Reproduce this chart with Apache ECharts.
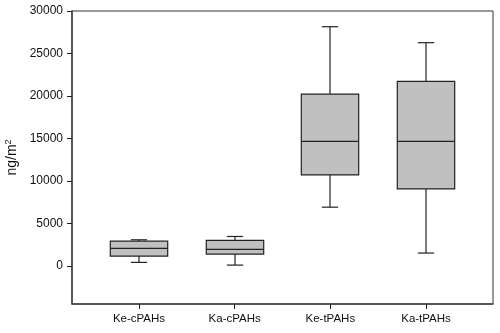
<!DOCTYPE html>
<html>
<head>
<meta charset="utf-8">
<script src="https://cdn.jsdelivr.net/npm/echarts@6/dist/echarts.min.js"></script>
<style>
  html, body { margin: 0; padding: 0; background: #fff; }
  #chart { width: 500px; height: 333px; }
</style>
</head>
<body>
<div id="chart"></div>
<script>
// box statistics per group (ng/m2)
var categories = ['Ke-cPAHs', 'Ka-cPAHs', 'Ke-tPAHs', 'Ka-tPAHs'];
var minVals = [400, 80, 6900, 1500];
var q1Vals = [1140, 1380, 10700, 9050];
var medianVals = [2050, 1930, 14650, 14650];
var q3Vals = [2900, 2990, 20220, 21720];
var maxVals = [3060, 3450, 28150, 26270];
var yTicks = [0, 5000, 10000, 15000, 20000, 25000, 30000];

var boxData = [];
for (var i = 0; i < categories.length; i++) {
    boxData.push([i + 1, minVals[i], q1Vals[i], medianVals[i], q3Vals[i], maxVals[i]]);
}

var lineCol = '#222';

function renderBox(params, api) {
    var x = api.value(0);
    var pMin = api.coord([x, api.value(1)]);
    var pQ1 = api.coord([x, api.value(2)]);
    var pMed = api.coord([x, api.value(3)]);
    var pQ3 = api.coord([x, api.value(4)]);
    var pMax = api.coord([x, api.value(5)]);
    var boxW = api.size([0.6, 0])[0];
    var capW = api.size([0.17, 0])[0];
    var cx = Math.round(pMed[0]);
    var ls = { stroke: lineCol, lineWidth: 1.2 };
    return {
        type: 'group',
        children: [
            { type: 'line', shape: { x1: cx, y1: pQ3[1], x2: cx, y2: pMax[1] }, style: ls },
            { type: 'line', shape: { x1: cx, y1: pQ1[1], x2: cx, y2: pMin[1] }, style: ls },
            { type: 'line', shape: { x1: cx - capW / 2, y1: pMax[1], x2: cx + capW / 2, y2: pMax[1] }, style: ls },
            { type: 'line', shape: { x1: cx - capW / 2, y1: pMin[1], x2: cx + capW / 2, y2: pMin[1] }, style: ls },
            { type: 'rect', shape: { x: cx - boxW / 2, y: pQ3[1], width: boxW, height: pQ1[1] - pQ3[1] },
              style: { fill: '#c0c0c0', stroke: lineCol, lineWidth: 1.2 } },
            { type: 'line', shape: { x1: cx - boxW / 2, y1: pMed[1], x2: cx + boxW / 2, y2: pMed[1] }, style: ls }
        ]
    };
}

var chart = echarts.init(document.getElementById('chart'), null, { renderer: 'canvas' });
var option = {
    animation: false,
    backgroundColor: '#fff',
    textStyle: { fontFamily: 'Liberation Sans, Arial, sans-serif' },
    grid: {
        left: 72, right: 7, top: 11, bottom: 29,
        containLabel: false,
        outerBoundsMode: 'none',
        show: true, borderColor: '#333', borderWidth: 1
    },
    xAxis: {
        type: 'value',
        min: 0.3,
        max: 4.7,
        splitLine: { show: false },
        axisLine: { show: true, onZero: false, lineStyle: { color: '#444', width: 1.5 } },
        axisTick: { show: true, length: 5, customValues: [1, 2, 3, 4], lineStyle: { color: '#222' } },
        axisLabel: {
            customValues: [1, 2, 3, 4],
            formatter: function (v) { return categories[Math.round(v) - 1] || ''; },
            color: '#111', fontSize: 11.5, margin: 9
        }
    },
    yAxis: {
        type: 'value',
        min: -4500,
        max: 30000,
        name: 'ng/m{sup|2}',
        nameLocation: 'middle',
        nameGap: 46,
        nameRotate: 90,
        nameTextStyle: {
            color: '#111', fontSize: 14,
            rich: { sup: { fontSize: 9, verticalAlign: 'top', padding: [0, 0, 7, 0] } }
        },
        splitLine: { show: false },
        axisLine: { show: true, lineStyle: { color: '#444', width: 1.5 } },
        axisTick: { show: true, length: 5, customValues: yTicks, lineStyle: { color: '#222' } },
        axisLabel: {
            customValues: yTicks,
            formatter: function (v) { return String(v); },
            color: '#111', fontSize: 12, margin: 9
        }
    },
    series: [{
        type: 'custom',
        renderItem: renderBox,
        encode: { x: 0, y: [1, 2, 3, 4, 5] },
        data: boxData
    }]
};
chart.setOption(option);
</script>
</body>
</html>
